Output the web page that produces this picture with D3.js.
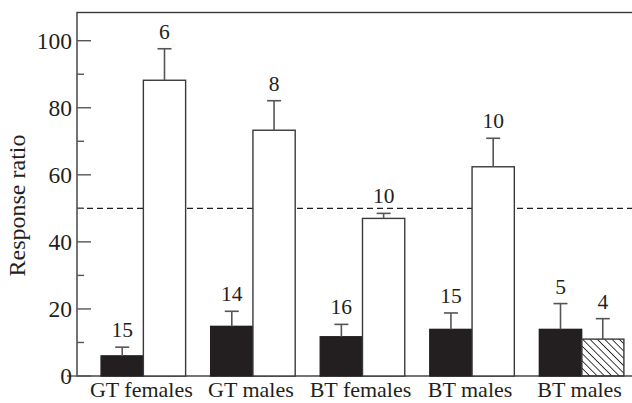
<!DOCTYPE html>
<html>
<head>
<meta charset="utf-8">
<script src="https://cdn.jsdelivr.net/npm/d3@7"></script>
<style>
  html, body { margin: 0; padding: 0; background: #fff; }
  svg { display: block; }
  text { font-family: 'Liberation Serif', 'DejaVu Serif', serif; fill: #231f20; }
</style>
</head>
<body>
<svg id="chart" width="632" height="403"></svg>
<script>
// data
const groups = ['GT females', 'GT males', 'BT females', 'BT males', 'BT males']
const firstMean = [6.0, 14.8, 11.7, 13.9, 13.9]
const firstSE = [2.6, 4.5, 3.7, 4.9, 7.7]
const firstN = [15, 14, 16, 15, 5]
const secondMean = [88.2, 73.3, 47.0, 62.4, 11.0]
const secondSE = [9.4, 8.8, 1.5, 8.5, 6.1]
const secondN = [6, 8, 10, 10, 4]
const secondStyle = ['open', 'open', 'open', 'open', 'hatched']
const yTicks = [0, 20, 40, 60, 80, 100]
const yMinorTicks = [10, 30, 50, 70, 90]
const chanceLevel = 50

const width = 632
const height = 403
const margin = { top: 12.5, right: -16, bottom: 27, left: 77 }

const svg = d3.select('#chart')

const defs = svg.append('defs')
defs
  .append('pattern')
  .attr('id', 'hatch')
  .attr('patternUnits', 'userSpaceOnUse')
  .attr('width', 5.2)
  .attr('height', 5.2)
  .attr('patternTransform', 'rotate(-45)')
  .append('line')
  .attr('x1', 0)
  .attr('y1', 0)
  .attr('x2', 0)
  .attr('y2', 5.2)
  .attr('stroke', '#231f20')
  .attr('stroke-width', 1.7)

const x = d3
  .scaleBand()
  .domain(d3.range(groups.length))
  .range([margin.left, width - margin.right])
  .paddingInner(0.2286)
  .paddingOuter(0.22)

const xSub = d3
  .scaleBand()
  .domain(['first', 'second'])
  .range([0, x.bandwidth()])

const y = d3
  .scaleLinear()
  .domain([0, 100])
  .range([height - margin.bottom, 40.7])

const rows = groups.map((g, i) => [
  { g: i, key: 'first', mean: firstMean[i], se: firstSE[i], n: firstN[i], style: 'solid' },
  { g: i, key: 'second', mean: secondMean[i], se: secondSE[i], n: secondN[i], style: secondStyle[i] }
]).flat()

// frame (top line runs off the right edge like the original)
svg
  .append('rect')
  .attr('x', margin.left)
  .attr('y', margin.top)
  .attr('width', width - margin.right - margin.left)
  .attr('height', y(0) - margin.top)
  .attr('fill', 'none')
  .attr('stroke', '#3a3a3a')
  .attr('stroke-width', 1.4)

// chance line
svg
  .append('line')
  .attr('x1', margin.left)
  .attr('x2', width)
  .attr('y1', y(chanceLevel))
  .attr('y2', y(chanceLevel))
  .attr('stroke', '#231f20')
  .attr('stroke-width', 1.2)
  .attr('stroke-dasharray', '6,4')

const bars = svg.append('g')

bars
  .selectAll('rect')
  .data(rows)
  .join('rect')
  .attr('x', (d) => x(d.g) + xSub(d.key))
  .attr('y', (d) => y(d.mean))
  .attr('width', xSub.bandwidth())
  .attr('height', (d) => y(0) - y(d.mean))
  .attr('fill', (d) => (d.style === 'solid' ? '#231f20' : d.style === 'hatched' ? 'url(#hatch)' : '#fff'))
  .attr('stroke', (d) => (d.style === 'solid' ? '#231f20' : '#3a3a3a'))
  .attr('stroke-width', 1.4)

const err = svg.append('g').attr('stroke', '#555').attr('stroke-width', 1.6)
const cx = (d) => x(d.g) + xSub(d.key) + xSub.bandwidth() / 2

err
  .selectAll('line.stem')
  .data(rows)
  .join('line')
  .attr('class', 'stem')
  .attr('x1', cx)
  .attr('x2', cx)
  .attr('y1', (d) => y(d.mean))
  .attr('y2', (d) => y(d.mean + d.se))

err
  .selectAll('line.cap')
  .data(rows)
  .join('line')
  .attr('class', 'cap')
  .attr('x1', (d) => cx(d) - 7)
  .attr('x2', (d) => cx(d) + 7)
  .attr('y1', (d) => y(d.mean + d.se))
  .attr('y2', (d) => y(d.mean + d.se))

// sample sizes
svg
  .append('g')
  .selectAll('text')
  .data(rows)
  .join('text')
  .attr('x', cx)
  .attr('y', (d) => y(d.mean + d.se) - 10)
  .attr('text-anchor', 'middle')
  .attr('font-size', 21.5)
  .text((d) => d.n)

// y axis: inward ticks
const axis = svg.append('g').attr('stroke', '#555').attr('stroke-width', 1.4)
axis
  .selectAll('line.major')
  .data(yTicks)
  .join('line')
  .attr('class', 'major')
  .attr('x1', margin.left)
  .attr('x2', margin.left + 14)
  .attr('y1', (d) => y(d))
  .attr('y2', (d) => y(d))
axis
  .selectAll('line.minor')
  .data(yMinorTicks)
  .join('line')
  .attr('class', 'minor')
  .attr('x1', margin.left)
  .attr('x2', margin.left + 7)
  .attr('y1', (d) => y(d))
  .attr('y2', (d) => y(d))
axis
  .append('line')
  .attr('x1', margin.left - 10)
  .attr('x2', margin.left)
  .attr('y1', y(0))
  .attr('y2', y(0))

svg
  .append('g')
  .selectAll('text')
  .data(yTicks)
  .join('text')
  .attr('x', 72)
  .attr('y', (d) => y(d))
  .attr('dy', '0.34em')
  .attr('text-anchor', 'end')
  .attr('font-size', 23.5)
  .text((d) => d)

// category labels
svg
  .append('g')
  .selectAll('text')
  .data(groups)
  .join('text')
  .attr('x', (d, i) => x(i) + x.bandwidth() / 2 - 2)
  .attr('y', 397)
  .attr('text-anchor', 'middle')
  .attr('font-size', 22)
  .text((d) => d)

svg
  .append('text')
  .attr('transform', `translate(25,${205.5}) rotate(-90)`)
  .attr('text-anchor', 'middle')
  .attr('font-size', 24)
  .text('Response ratio')
</script>
</body>
</html>
